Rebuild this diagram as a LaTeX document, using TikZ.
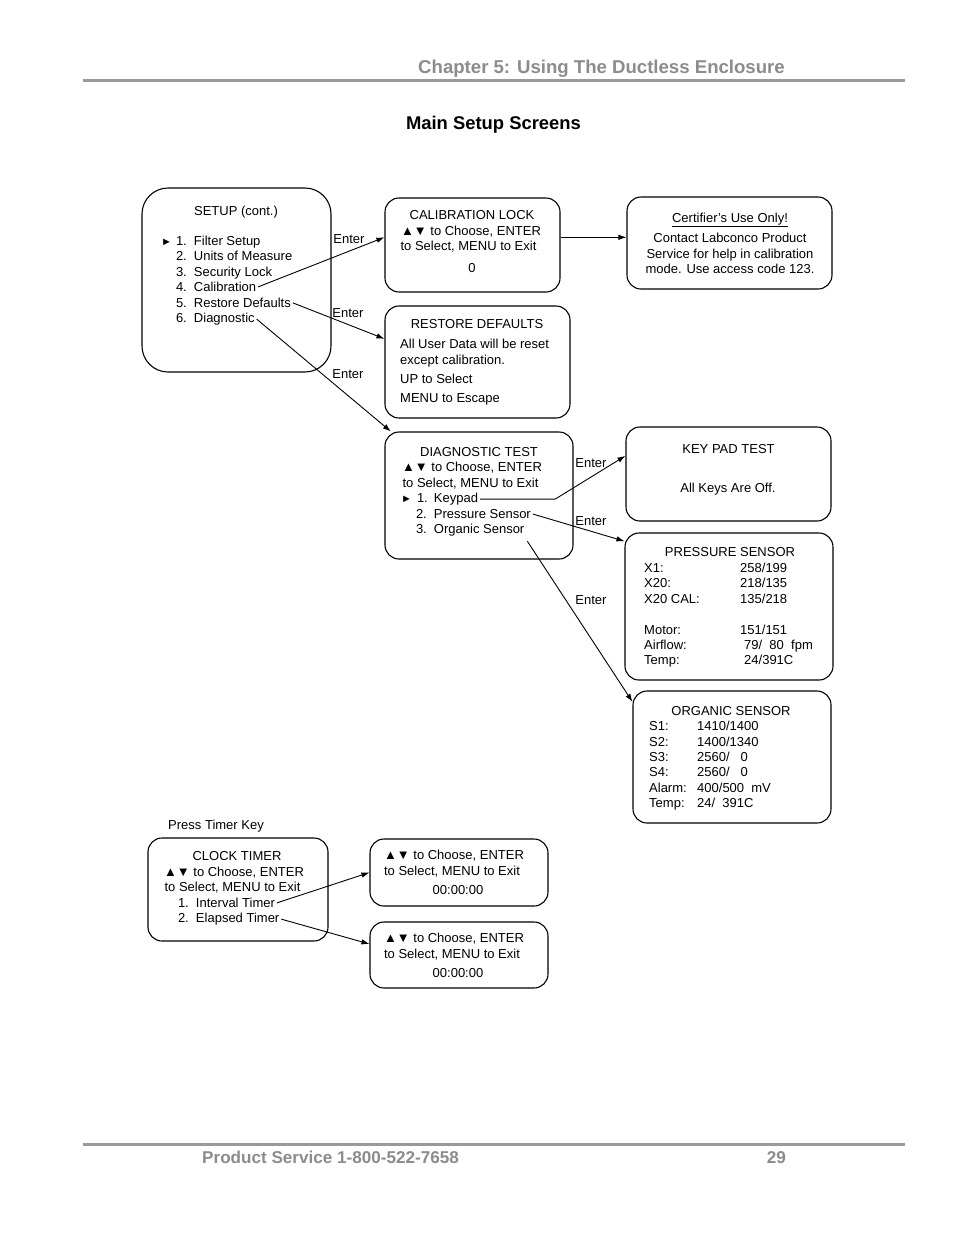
\documentclass[tikz,border=0pt]{standalone}
\usepackage{fontspec}
\setmainfont{Liberation Sans}
\usetikzlibrary{arrows.meta}
\definecolor{hdrgray}{HTML}{8C8C8C}
\definecolor{rulegray}{HTML}{9A9A9A}
\begin{document}
\begin{tikzpicture}[x=1bp,y=-1bp,
  box/.style={draw, line width=1.1bp, rounded corners=14bp, inner sep=0pt},
  txt/.style={font=\fontsize{13bp}{15.5bp}\selectfont, inner sep=0pt},
  lt/.style={txt, anchor=base west},
  ct/.style={txt, anchor=base},
  item/.style={lt, outer sep=2bp},
  ptr/.style={anchor=base west, inner sep=0pt, font=\fontsize{11bp}{11bp}\selectfont},
  arr/.style={-{Latex[length=8bp,width=5.5bp]}, line width=0.9bp},
  hdr/.style={inner sep=0pt, text=hdrgray},
]
\useasboundingbox (0,0) rectangle (954,1235);
\fill[white] (0,0) rectangle (954,1235);

% header / footer
\node[hdr, anchor=base east, font=\fontsize{18.6bp}{20bp}\selectfont\bfseries] (chap) at (785,73.5) {Chapter 5: Using The Ductless Enclosure};
\draw[rulegray, line width=3bp] (83,80) -- (905,80);
\node[inner sep=0pt, anchor=base, font=\fontsize{18.4bp}{20bp}\selectfont\bfseries] (title) at (493.5,129) {Main Setup Screens};
\draw[rulegray, line width=3bp] (83,1144) -- (905,1144);
\node[hdr, anchor=base west, font=\fontsize{17.1bp}{20bp}\selectfont\bfseries] (foot) at (202,1163) {Product Service 1-800-522-7658};
\node[hdr, anchor=base east, font=\fontsize{17.1bp}{20bp}\selectfont\bfseries] (page) at (786,1163) {29};

% boxes
\node[box, rounded corners=26bp, minimum width=189bp, minimum height=184bp] (setup) at (236.5,280) {};
\node[box, minimum width=175bp, minimum height=94bp] (calib) at (472.5,245) {};
\node[box, minimum width=205bp, minimum height=92bp] (cert) at (729.5,243) {};
\node[box, minimum width=185bp, minimum height=112bp] (restore) at (477.5,362) {};
\node[box, minimum width=188bp, minimum height=127bp] (diag) at (479,495.5) {};
\node[box, minimum width=205bp, minimum height=94bp] (keypad) at (728.5,474) {};
\node[box, minimum width=208bp, minimum height=147bp] (pressbox) at (729,606.5) {};
\node[box, minimum width=198bp, minimum height=132bp] (organic) at (732,757) {};
\node[box, minimum width=180bp, minimum height=103bp] (clock) at (238,889.5) {};
\node[box, minimum width=178bp, minimum height=67bp] (tone) at (459,872.5) {};
\node[box, minimum width=178bp, minimum height=66bp] (ttwo) at (459,955) {};

% SETUP text
\node[ct] (setupT) at (236,215) {SETUP (cont.)};
\node[ptr] (setupP) at (161,245.5) {►};
\node[item] (s1) at (174,245.5) {\makebox[18bp][l]{1.}Filter Setup};
\node[item] (s2) at (174,260.5) {\makebox[18bp][l]{2.}Units of Measure};
\node[item] (s3) at (174,276.5) {\makebox[18bp][l]{3.}Security Lock};
\node[item] (s4) at (174,291.5) {\makebox[18bp][l]{4.}Calibration};
\node[item] (s5) at (174,307.5) {\makebox[18bp][l]{5.}Restore Defaults};
\node[item] (s6) at (174,322.5) {\makebox[18bp][l]{6.}Diagnostic};

% CALIBRATION LOCK
\node[ct] (c1) at (472,219.5) {CALIBRATION LOCK};
\node[ct] (c2) at (471,235.5) {▲▼ to Choose, ENTER};
\node[ct] (c3) at (468.5,250.5) {to Select, MENU to Exit};
\node[ct] (c4) at (472,272.5) {0};

% Certifier
\node[ct] (k1) at (730,222.5) {\underline{Certifier's Use Only!}};
\node[ct] (k2) at (730,242.5) {Contact Labconco Product};
\node[ct] (k3) at (730,258.5) {Service for help in calibration};
\node[ct] (k4) at (730,273.5) {mode. Use access code 123.};

% RESTORE DEFAULTS
\node[ct] (r1) at (477,328.5) {RESTORE DEFAULTS};
\node[lt] (r2) at (400,348.5) {All User Data will be reset};
\node[lt] (r3) at (400,364.5) {except calibration.};
\node[lt] (r4) at (400,383.5) {UP to Select};
\node[lt] (r5) at (400,402.5) {MENU to Escape};

% DIAGNOSTIC TEST
\node[ct] (d1) at (479,456.5) {DIAGNOSTIC TEST};
\node[ct] (d2) at (472,471.5) {▲▼ to Choose, ENTER};
\node[ct] (d3) at (470.5,487.5) {to Select, MENU to Exit};
\node[ptr] (dP) at (401,502.5) {►};
\node[item] (dk) at (415,502.5) {\makebox[17bp][l]{1.}Keypad};
\node[item] (dp) at (414,518.5) {\makebox[18bp][l]{2.}Pressure Sensor};
\node[item] (do) at (414,533.5) {\makebox[18bp][l]{3.}Organic Sensor};

% KEY PAD TEST
\node[ct] (kp1) at (728.5,453.5) {KEY PAD TEST};
\node[ct] (kp2) at (728,492.5) {All Keys Are Off.};

% PRESSURE SENSOR
\node[ct] (p0) at (730,556.5) {PRESSURE SENSOR};
\node[lt] (pl1) at (644,572.5) {X1:};
\node[lt] (pl2) at (644,587.5) {X20:};
\node[lt] (pl3) at (644,603.5) {X20 CAL:};
\node[lt] (pl4) at (644,634.5) {Motor:};
\node[lt] (pl5) at (644,649.5) {Airflow:};
\node[lt] (pl6) at (644,664.5) {Temp:};
\node[lt] (pv1) at (740,572.5) {258/199};
\node[lt] (pv2) at (740,587.5) {218/135};
\node[lt] (pv3) at (740,603.5) {135/218};
\node[lt] (pv4) at (740,634.5) {151/151};
\node[lt] (pv5) at (744,649.5) {79/\ \ 80\ \ fpm};
\node[lt] (pv6) at (744,664.5) {24/391C};

% ORGANIC SENSOR
\node[ct] (o0) at (731,715.5) {ORGANIC SENSOR};
\node[lt] (ol1) at (649,730.5) {S1:};
\node[lt] (ol2) at (649,746.5) {S2:};
\node[lt] (ol3) at (649,761.5) {S3:};
\node[lt] (ol4) at (649,776.5) {S4:};
\node[lt] (ol5) at (649,792.5) {Alarm:};
\node[lt] (ol6) at (649,807.5) {Temp:};
\node[lt] (ov1) at (697,730.5) {1410/1400};
\node[lt] (ov2) at (697,746.5) {1400/1340};
\node[lt] (ov3) at (697,761.5) {2560/\ \ \ 0};
\node[lt] (ov4) at (697,776.5) {2560/\ \ \ 0};
\node[lt] (ov5) at (697,792.5) {400/500\ \ mV};
\node[lt] (ov6) at (697,807.5) {24/\ \ 391C};

% CLOCK TIMER
\node[lt] (presskey) at (168,829.5) {Press Timer Key};
\node[ct] (t1) at (237,860.5) {CLOCK TIMER};
\node[ct] (t2) at (234,876.5) {▲▼ to Choose, ENTER};
\node[ct] (t3) at (232.5,891.5) {to Select, MENU to Exit};
\node[item] (ti) at (176,907.5) {\makebox[18bp][l]{1.}Interval Timer};
\node[item] (te) at (176,922.5) {\makebox[18bp][l]{2.}Elapsed Timer};

\node[ct] (a1) at (454,859.5) {▲▼ to Choose, ENTER};
\node[ct] (a2) at (452,875.5) {to Select, MENU to Exit};
\node[ct] (a3) at (458,894.5) {00:00:00};
\node[ct] (b1) at (454,942.5) {▲▼ to Choose, ENTER};
\node[ct] (b2) at (452,958.5) {to Select, MENU to Exit};
\node[ct] (b3) at (458,977.5) {00:00:00};

% Enter labels
\node[ct] (e1) at (349,243.5) {Enter};
\node[ct] (e2) at (348,317.5) {Enter};
\node[ct] (e3) at (348,378.5) {Enter};
\node[ct] (e4) at (591,467.5) {Enter};
\node[ct] (e5) at (591,525.5) {Enter};
\node[ct] (e6) at (591,604.5) {Enter};

% connectors
\draw[arr] (s4.east) -- (calib.175);
\draw[arr] (s5.east) -- (restore.166);
\draw[arr] (s6.east) -- (diag.144);
\draw[arr] (calib.5) -- (cert.west |- calib.5);
\draw[arr] (dk.east) -- ++(75,0) -- (keypad.170);
\draw[arr] (dp.east) -- (pressbox.148);
\draw[arr] ([xshift=1bp,yshift=-3bp]do.south east) -- (organic.151);
\draw[arr] (ti.east) -- (tone.west);
\draw[arr] (te.east) -- (ttwo.173);
\end{tikzpicture}
\end{document}
